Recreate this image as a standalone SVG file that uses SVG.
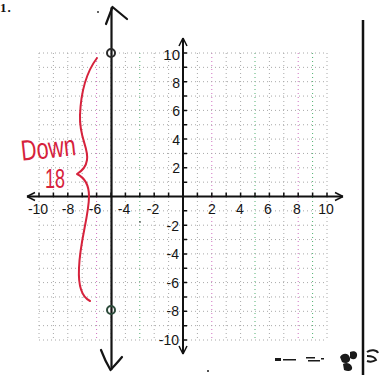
<svg xmlns="http://www.w3.org/2000/svg" width="382" height="375" viewBox="0 0 382 375">
<style>
.grid{fill:none;stroke:#a8a8a8;stroke-width:1;stroke-dasharray:1 3}
.gpink{fill:none;stroke:#d070c0;stroke-width:1;stroke-dasharray:1 3}
.ggreen{fill:none;stroke:#50b070;stroke-width:1;stroke-dasharray:1 3}
.axis{fill:none;stroke:#111;stroke-width:2}
.tick{fill:none;stroke:#111;stroke-width:1.5}
.lbl{font-family:"Liberation Sans",Arial,sans-serif;font-size:14px;fill:#151515}
.red{fill:none;stroke:#d6223c;stroke-width:2;stroke-linecap:round;stroke-linejoin:round}
.hand{font-family:"Liberation Sans",Arial,sans-serif;fill:#d6223c}
.ink{fill:none;stroke:#141414;stroke-width:2.2;stroke-linecap:round;stroke-linejoin:round}
</style>
<rect width="382" height="375" fill="#ffffff"/>
<text x="0" y="12" font-family="'Liberation Serif',serif" font-weight="bold" font-size="13" letter-spacing="1" fill="#111">1.</text>
<g id="grid">
<path class="grid" d="M39 53V340M53.4 53V340M67.8 53V340M82.2 53V340M111 53V340M125.4 53V340M154.2 53V340M168.6 53V340M197.4 53V340M226.2 53V340M240.6 53V340M269.4 53V340M283.8 53V340M327 53V340"/>
<path class="gpink" d="M96.6 53V340M211.8 53V340M298.2 53V340"/>
<path class="ggreen" d="M139.8 53V340M255 53V340M312.6 53V340"/>
<path class="grid" d="M39 53H327M39 67.35H327M39 81.7H327M39 96.05H327M39 110.4H327M39 124.75H327M39 139.1H327M39 153.45H327M39 167.8H327M39 182.15H327M39 210.85H327M39 225.2H327M39 239.55H327M39 253.9H327M39 268.25H327M39 282.6H327M39 296.95H327M39 311.3H327M39 325.65H327M39 340H327"/>
</g>
<g id="axes">
<path class="axis" d="M27 196.5H343M183 38V354"/>
<path class="tick" d="M27 196.5L35 192.5M27 196.5L35 200.5M343 196.5L335 192.5M343 196.5L335 200.5M183 38L179 46M183 38L187 46M183 354L179 346M183 354L187 346"/>
<path class="tick" d="M39 192.5V196.5M53.4 192.5V196.5M67.8 192.5V196.5M82.2 192.5V196.5M96.6 192.5V196.5M111 192.5V196.5M125.4 192.5V196.5M139.8 192.5V196.5M154.2 192.5V196.5M168.6 192.5V196.5M197.4 192.5V196.5M211.8 192.5V196.5M226.2 192.5V196.5M240.6 192.5V196.5M255 192.5V196.5M269.4 192.5V196.5M283.8 192.5V196.5M298.2 192.5V196.5M312.6 192.5V196.5M327 192.5V196.5"/>
<path class="tick" d="M183 53H187M183 67.35H187M183 81.7H187M183 96.05H187M183 110.4H187M183 124.75H187M183 139.1H187M183 153.45H187M183 167.8H187M183 182.15H187M183 210.85H187M183 225.2H187M183 239.55H187M183 253.9H187M183 268.25H187M183 282.6H187M183 296.95H187M183 311.3H187M183 325.65H187M183 340H187"/>
</g>
<g id="x-labels" class="lbl" text-anchor="middle">
<text x="38" y="214">-10</text>
<text x="68" y="214">-8</text>
<text x="95" y="214">-6</text>
<text x="124" y="214">-4</text>
<text x="153" y="214">-2</text>
<text x="212" y="214">2</text>
<text x="240" y="214">4</text>
<text x="268" y="214">6</text>
<text x="297" y="214">8</text>
<text x="326" y="214">10</text>
</g>
<g id="y-labels" class="lbl" text-anchor="end">
<text x="180" y="60" font-size="15">10</text>
<text x="180" y="88">8</text>
<text x="180" y="116">6</text>
<text x="180" y="145">4</text>
<text x="180" y="173">2</text>
<text x="179" y="231">-2</text>
<text x="179" y="259">-4</text>
<text x="179" y="288">-6</text>
<text x="179" y="316">-8</text>
<text x="179" y="345">-10</text>
</g>
<g id="line-x-neg5">
<path class="ink" d="M111.5 8V369"/>
<path class="ink" d="M106 24L112.5 7L127 19"/>
<path class="ink" d="M101 350C104 358 107 364 110.5 370C114 366 118 362 122 357"/>
<circle cx="98" cy="12" r="1" fill="#333"/>
</g>
<g id="point-top">
<circle cx="111" cy="53" r="4" fill="none" stroke="#2a2a2a" stroke-width="2"/>
</g>
<g id="point-bottom">
<circle cx="111" cy="310" r="4" fill="none" stroke="#2c4a3a" stroke-width="2"/>
</g>
<g id="brace">
<path class="red" d="M97 58C88 70 81 90 80 115C79 138 89 148 87 160C86 167 82 171 77 174C83 177 89 183 89 196C89 216 80 240 79 268C78 288 82 297 90 301"/>
</g>
<g id="label-down">
<text class="hand" x="21" y="158" font-size="29" textLength="55" lengthAdjust="spacingAndGlyphs" transform="rotate(-6 48 150)">Down</text>
<text class="hand" x="45" y="188" font-size="28" textLength="20" lengthAdjust="spacingAndGlyphs">18</text>
</g>
<g id="border">
<path d="M363 20V375" stroke="#111" stroke-width="2.5" fill="none"/>
</g>
<g id="smudges" fill="#1a1a1a">
<rect x="275" y="358" width="6" height="3"/>
<rect x="283" y="359" width="13" height="1.5"/>
<rect x="306" y="357" width="9" height="1.5"/>
<rect x="308" y="360" width="12" height="1.5"/>
<rect x="321" y="358" width="3" height="1.5"/>
<path d="M340 357c3-5 9-4 10 1s-5 6-8 4zM350 352c4-2 8 0 7 4s-4 4-7 2zM343 364c3-2 8-1 9 3s-4 5-8 3z"/>
<path d="M367 352c4-3 10-2 11 1M367 356c4 0 8 1 9 4c-3 2-6 2-9 1" fill="none" stroke="#1a1a1a" stroke-width="2"/>
<circle cx="208" cy="371" r="1"/>
<circle cx="140" cy="222" r="0.8"/>
</g>
</svg>
